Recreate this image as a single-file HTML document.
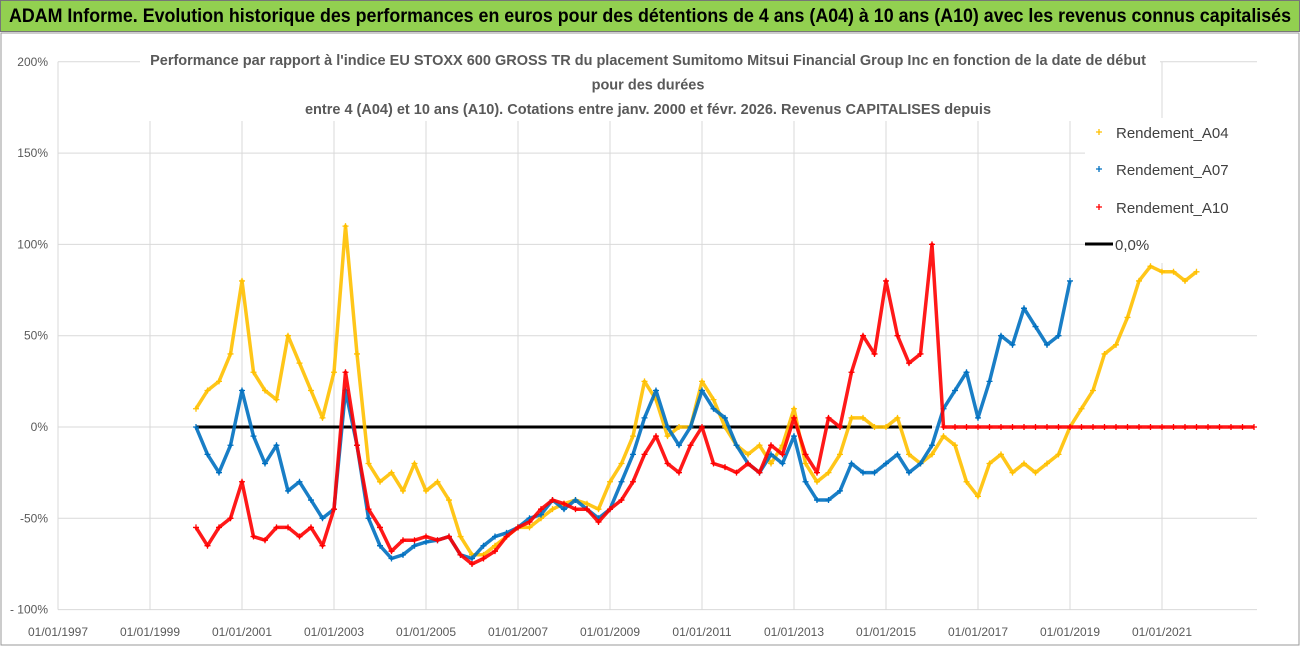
<!DOCTYPE html>
<html><head><meta charset="utf-8">
<style>
body{margin:0;width:1302px;height:647px;overflow:hidden;background:#fff;font-family:"Liberation Sans",sans-serif}
#hdr{position:absolute;left:0;top:0;width:1300px;height:32px;background:#92d050;border:1px solid #777;box-sizing:border-box;overflow:hidden}
#hdrtxt{position:absolute;left:8px;top:0;font-weight:bold;font-size:19px;line-height:31px;color:#000;white-space:nowrap;transform-origin:0 50%}
svg{position:absolute;left:0;top:0}
</style></head><body>
<div id="hdr"><span id="hdrtxt">ADAM Informe. Evolution historique des performances en euros pour des détentions de 4 ans (A04) à 10 ans (A10) avec les revenus connus capitalisés</span></div>
<svg id="chart" width="1302" height="647"></svg>
<script>
const yTicks=[200,150,100,50,0,-50,-100];
const yTickLabels=["200%","150%","100%","50%","0%","-50%","- 100%"];
const xTickYears=[1997,1999,2001,2003,2005,2007,2009,2011,2013,2015,2017,2019,2021];
const xTickLabels=["01/01/1997","01/01/1999","01/01/2001","01/01/2003","01/01/2005","01/01/2007","01/01/2009","01/01/2011","01/01/2013","01/01/2015","01/01/2017","01/01/2019","01/01/2021"];
const a04Start=2000.0;
const a04=[10,20,25,40,80,30,20,15,50,35,20,5,30,110,40,-20,-30,-25,-35,-20,-35,-30,-40,-60,-70,-70,-65,-60,-55,-55,-50,-45,-42,-40,-42,-45,-30,-20,-5,25,15,-5,0,0,25,15,0,-10,-15,-10,-20,-10,10,-20,-30,-25,-15,5,5,0,0,5,-15,-20,-15,-5,-10,-30,-38,-20,-15,-25,-20,-25,-20,-15,0,10,20,40,45,60,80,88,85,85,80,85];
const a07Start=2000.0;
const a07=[0,-15,-25,-10,20,-5,-20,-10,-35,-30,-40,-50,-45,20,-10,-50,-65,-72,-70,-65,-63,-62,-60,-70,-72,-65,-60,-58,-55,-50,-48,-40,-45,-40,-45,-50,-45,-30,-15,5,20,0,-10,0,20,10,5,-10,-20,-25,-15,-20,-5,-30,-40,-40,-35,-20,-25,-25,-20,-15,-25,-20,-10,10,20,30,5,25,50,45,65,55,45,50,80];
const a10Start=2000.0;
const a10=[-55,-65,-55,-50,-30,-60,-62,-55,-55,-60,-55,-65,-45,30,-10,-45,-55,-68,-62,-62,-60,-62,-60,-70,-75,-72,-68,-60,-55,-52,-45,-40,-42,-45,-45,-52,-45,-40,-30,-15,-5,-20,-25,-10,0,-20,-22,-25,-20,-25,-10,-15,5,-15,-25,5,0,30,50,40,80,50,35,40,100,0,0,0,0,0,0,0,0,0,0,0,0,0,0,0,0,0,0,0,0,0,0,0,0,0,0,0,0];
const zeroLineRange=[2000.0,2016.0];

const ht=document.getElementById('hdrtxt');
ht.style.transform='scaleX('+(1282/ht.getBoundingClientRect().width)+')';

const NS="http://www.w3.org/2000/svg";
const svg=document.getElementById('chart');
const X=yr=>58+(yr-1997)*46;
const Y=v=>427-v*1.826;
function mk(t,a,p){const e=document.createElementNS(NS,t);for(const k in a)e.setAttribute(k,a[k]);(p||svg).appendChild(e);return e;}
const frame=mk('rect',{x:1,y:33,width:1298,height:612,fill:'#fff',stroke:'#999'});


yTicks.forEach((v,i)=>{
  const l=mk('line',{x1:58,x2:1257,y1:Y(v),y2:Y(v),stroke:'#d9d9d9','stroke-width':1});
  
  
  const t=mk('text',{x:48,y:Y(v)+4,'text-anchor':'end','font-size':12,fill:'#595959'});
  t.textContent=yTickLabels[i];
  
  
});
xTickYears.forEach((yr,i)=>{
  const l=mk('line',{x1:X(yr),x2:X(yr),y1:Y(200),y2:Y(-100),stroke:'#d9d9d9','stroke-width':1});
  
  
  const t=mk('text',{x:X(yr),y:636,'text-anchor':'middle','font-size':12,fill:'#595959'});
  t.textContent=xTickLabels[i];
  
  
});
const zl=mk('line',{x1:X(zeroLineRange[0]),x2:X(zeroLineRange[1]),y1:Y(0),y2:Y(0),stroke:'#000','stroke-width':3});


function series(vals,start,color,name){
  const g=mk('g',{});
  
  
  const pts=vals.map((v,i)=>X(start+i*0.25).toFixed(1)+','+Y(v).toFixed(1)).join(' ');
  mk('polyline',{points:pts,fill:'none',stroke:color,'stroke-width':3.5,'stroke-linejoin':'round',opacity:0.9},g);
  vals.forEach((v,i)=>{
    const x=X(start+i*0.25),y=Y(v);
    const p=mk('path',{d:`M${x-3},${y}h6M${x},${y-3}v6`,stroke:color,'stroke-width':1.3},g);
    
    
  });
}
series(a04,a04Start,'#ffc000','series-a04');
series(a07,a07Start,'#0070c0','series-a07');
series(a10,a10Start,'#ff0000','series-a10');
const tb=mk('rect',{x:140,y:45,width:1020,height:76,fill:'#fff'});


["Performance par rapport à l'indice EU STOXX 600 GROSS TR  du placement Sumitomo Mitsui Financial Group Inc en fonction de la date de début","pour des durées","entre 4 (A04) et 10 ans (A10). Cotations entre janv. 2000 et févr. 2026. Revenus CAPITALISES depuis"].forEach((s,i)=>{
  const t=mk('text',{x:648,y:65+i*24.5,'text-anchor':'middle','font-size':14.5,'font-weight':'bold',fill:'#595959'});
  t.textContent=s;
  
  
});
const lg=mk('rect',{x:1085,y:118,width:172,height:145,fill:'#fff'});


[['Rendement_A04','#ffc000',132],['Rendement_A07','#0070c0',169],['Rendement_A10','#ff0000',207]].forEach(([n,c,y])=>{
  mk('path',{d:`M1096,${y}h6M1099,${y-3}v6`,stroke:c,'stroke-width':1.3});
  const t=mk('text',{x:1116,y:y+6,'font-size':15,fill:'#404040'});
  t.textContent=n;
  
  
});
mk('line',{x1:1085,x2:1113,y1:244,y2:244,stroke:'#000','stroke-width':3});
const t0=mk('text',{x:1115,y:250,'font-size':15,fill:'#404040'});
t0.textContent='0,0%';


</script>
</body></html>
